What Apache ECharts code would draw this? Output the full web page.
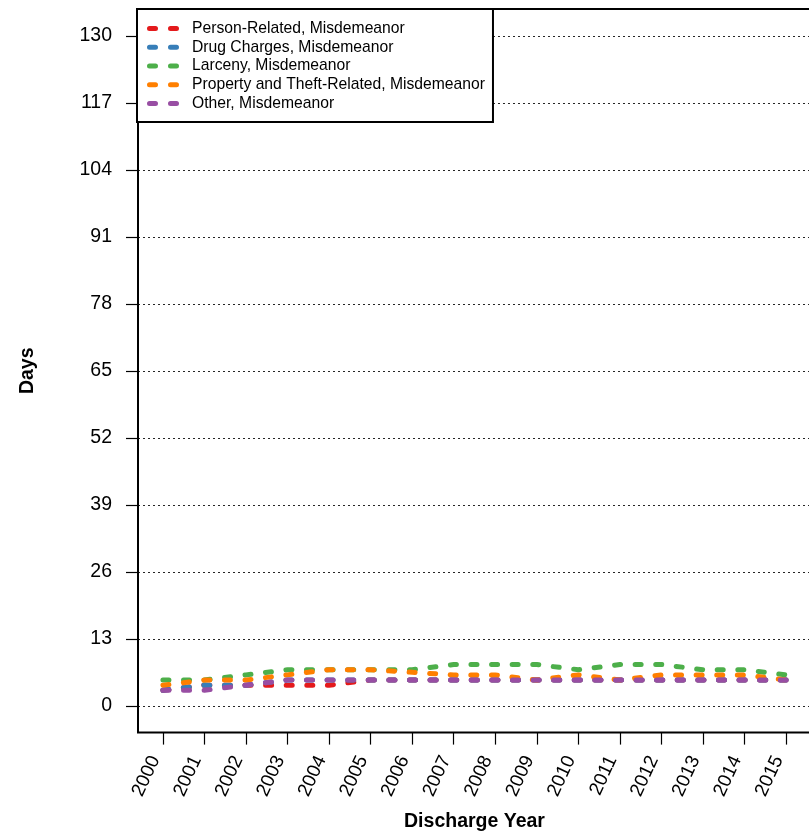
<!DOCTYPE html>
<html>
<head>
    <meta charset="utf-8">
    <title>Days by Discharge Year</title>
    <script src="https://cdn.jsdelivr.net/npm/echarts@6/dist/echarts.min.js"></script>
    <style>
        html, body { margin: 0; padding: 0; background: #fff; }
        #main { width: 809px; height: 832px; }
    </style>
</head>
<body>
    <div id="main"></div>

    <script type="text/javascript">
    // discharge years and median days
    var years = [2000, 2001, 2002, 2003, 2004, 2005, 2006, 2007, 2008, 2009, 2010, 2011, 2012, 2013, 2014, 2015];
    var personRelated = [3, 4, 4, 4, 4, 5, 5, 5, 5, 5, 5, 5, 5, 5, 5, 5];
    var drugCharges   = [3, 4, 4, 5, 5, 5, 5, 5, 5, 5, 5, 5, 5, 5, 5, 5];
    var larceny       = [5, 5, 6, 7, 7, 7, 7, 8, 8, 8, 7, 8, 8, 7, 7, 6];
    var propertyTheft = [4, 5, 5, 6, 7, 7, 6.5, 6, 6, 5, 6, 5, 6, 6, 6, 5];
    var other         = [3, 3, 4, 5, 5, 5, 5, 5, 5, 5, 5, 5, 5, 5, 5, 5];

    var yTicks = [0, 13, 26, 39, 52, 65, 78, 91, 104, 117, 130];

    var names = [
        'Person-Related, Misdemeanor',
        'Drug Charges, Misdemeanor',
        'Larceny, Misdemeanor',
        'Property and Theft-Related, Misdemeanor',
        'Other, Misdemeanor'
    ];
    var values = [personRelated, drugCharges, larceny, propertyTheft, other];
    var colors = ['#E41A1C', '#377EB8', '#4DAF4A', '#FF7F00', '#984EA3'];

    var font = '"Liberation Sans", Arial, sans-serif';
    // two rounded dashes, like the dotted line sample in the legend
    var dotsIcon = 'path://M2.5,0H8.5A2.5,2.5 0 0 1 8.5,5H2.5A2.5,2.5 0 0 1 2.5,0Z' +
                   'M23.5,0H29.5A2.5,2.5 0 0 1 29.5,5H23.5A2.5,2.5 0 0 1 23.5,0Z';

    var pairs = function(arr){
        return years.map(function(y, i){ return [y, arr[i]]; });
    };

    var series = values.map(function(arr, i){
        return {
            name: names[i],
            type: 'line',
            data: pairs(arr),
            symbol: 'none',
            z: 3,
            lineStyle: { color: colors[i], width: 5, type: [6, 14.6], cap: 'round' },
            itemStyle: { color: colors[i] }
        };
    });

    // dotted horizontal reference lines
    series.push({
        type: 'line',
        data: [],
        silent: true,
        z: 1,
        markLine: {
            silent: true,
            symbol: 'none',
            label: { show: false },
            lineStyle: { color: '#000', width: 1, type: [2, 3], opacity: 0.85 },
            data: yTicks.map(function(v){ return { yAxis: v }; })
        }
    });

    var chart = echarts.init(document.getElementById('main'), null, { renderer: 'canvas' });
    chart.setOption({
        animation: false,
        backgroundColor: '#fff',
        textStyle: { fontFamily: font },
        grid: {
            left: 138, right: -2, top: 9, height: 723.6,
            containLabel: false, outerBoundsMode: 'none',
            show: true, borderColor: '#000', borderWidth: 2, backgroundColor: 'transparent'
        },
        legend: {
            data: names.map(function(n){ return { name: n, icon: dotsIcon }; }),
            orient: 'vertical',
            left: 137, top: 9,
            padding: [10, 8, 9, 10],
            itemWidth: 32, itemHeight: 5, itemGap: 0,
            backgroundColor: '#fff',
            borderColor: '#000', borderWidth: 2, borderRadius: 0,
            z: 10,
            textStyle: { fontFamily: font, fontSize: 15.7, color: '#000', lineHeight: 18.8, padding: [0, 0, 0, 8] }
        },
        xAxis: {
            type: 'value',
            min: 1999.4, max: 2015.6,
            name: 'Discharge Year',
            nameLocation: 'middle',
            nameGap: 79,
            nameTextStyle: { fontFamily: font, fontSize: 19.5, fontWeight: 'bold', color: '#000' },
            axisLine: { show: false, onZero: false },
            axisTick: { show: true, length: 12, customValues: years, lineStyle: { color: '#000', width: 1.2 } },
            axisLabel: {
                customValues: years, rotate: 65, margin: 28,
                fontFamily: font, fontSize: 19, color: '#000',
                verticalAlign: 'bottom', lineHeight: 17,
                formatter: function(v){ return String(Math.round(v)); }
            },
            splitLine: { show: false }
        },
        yAxis: {
            type: 'value',
            min: -5.2, max: 135.2,
            name: 'Days',
            nameLocation: 'middle',
            nameGap: 100,
            nameTextStyle: { fontFamily: font, fontSize: 19.5, fontWeight: 'bold', color: '#000' },
            axisLine: { show: false, onZero: false },
            axisTick: { show: true, length: 12, customValues: yTicks, lineStyle: { color: '#000', width: 1.2 } },
            axisLabel: {
                customValues: yTicks, margin: 26,
                fontFamily: font, fontSize: 19.5, color: '#000'
            },
            splitLine: { show: false }
        },
        series: series
    });
    </script>
</body>
</html>
